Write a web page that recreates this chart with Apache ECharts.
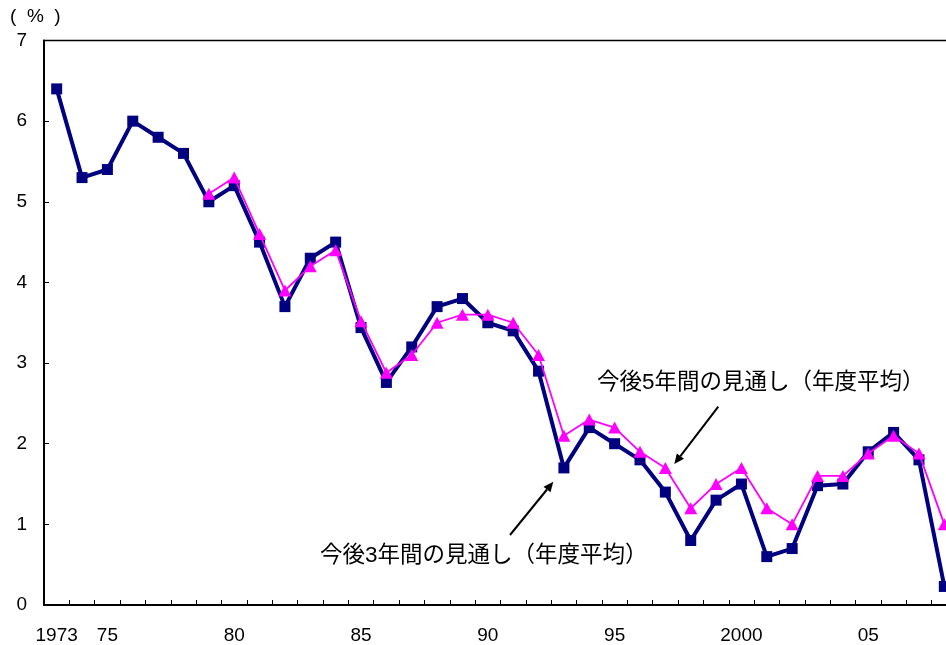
<!DOCTYPE html>
<html>
<head>
<meta charset="utf-8">
<script src="https://cdn.jsdelivr.net/npm/echarts@6/dist/echarts.min.js"></script>
<style>
html,body{margin:0;padding:0;background:#fff;overflow:hidden;width:946px;height:645px;}
#main{width:957px;height:645px;}
</style>
</head>
<body>
<div id="main"></div>
<script>
var years = ['1973','1974','1975','1976','1977','1978','1979','1980','1981','1982',
             '1983','1984','1985','1986','1987','1988','1989','1990','1991','1992',
             '1993','1994','1995','1996','1997','1998','1999','2000','2001','2002',
             '2003','2004','2005','2006','2007','2008'];
var labelYears = ['1973','1975','1980','1985','1990','1995','2000','2005'];
var labelTexts = ['1973','75','80','85','90','95','2000','05'];
var outlook3 = [6.4,5.3,5.4,6.0,5.8,5.6,5.0,5.2,4.5,3.7,
                4.3,4.5,3.44,2.76,3.2,3.7,3.8,3.5,3.4,2.9,
                1.7,2.2,2.0,1.8,1.4,0.8,1.3,1.5,0.6,0.7,
                1.48,1.5,1.9,2.14,1.8,0.23];
var outlook5 = [null,null,null,null,null,null,5.1,5.3,4.6,3.9,
                4.2,4.4,3.52,2.88,3.1,3.5,3.6,3.6,3.5,3.1,
                2.1,2.3,2.2,1.9,1.7,1.2,1.5,1.7,1.2,1.0,
                1.6,1.6,1.88,2.1,1.88,1.0];
var yTicks = [0,1,2,3,4,5,6,7];
var label3 = '今後3年間の見通し（年度平均）';
var label5 = '今後5年間の見通し（年度平均）';
var unitLabel = '(  %  )';

var chart = echarts.init(document.getElementById('main'), null, {renderer:'canvas'});
var FONT = "'Liberation Sans', Arial, 'Noto Sans CJK JP', sans-serif";
var option = {
  backgroundColor:'#fff',
  animation:false,
  grid:{left:44,top:40.5,bottom:39,right:0,show:true,borderColor:'#000',borderWidth:1.3,containLabel:false},
  xAxis:{
    type:'category',data:years,boundaryGap:true,
    axisLine:{lineStyle:{color:'#000',width:2}},
    axisTick:{show:true,inside:true,length:5,interval:0,lineStyle:{color:'#000',width:1}},
    axisLabel:{interval:0,margin:21,color:'#000',fontSize:19,fontFamily:FONT,
      formatter:function(v){var i=labelYears.indexOf(v);return i>=0?labelTexts[i]:'';}},
    splitLine:{show:false}
  },
  yAxis:{
    type:'value',min:yTicks[0],max:yTicks[yTicks.length-1],interval:1,
    axisLine:{show:true,lineStyle:{color:'#000',width:2}},
    axisTick:{show:true,inside:true,length:5,lineStyle:{color:'#000',width:1}},
    axisLabel:{margin:17,color:'#000',fontSize:19,fontFamily:FONT},
    splitLine:{show:false}
  },
  series:[
    {name:'3年',type:'line',data:outlook3,symbol:'rect',symbolSize:11,
     lineStyle:{color:'#000080',width:4},itemStyle:{color:'#000080'},z:2},
    {name:'5年',type:'line',data:outlook5,symbol:'triangle',symbolSize:[13,12],connectNulls:false,
     lineStyle:{color:'#FF00FF',width:1.8},itemStyle:{color:'#FF00FF'},z:3}
  ],
  graphic:[
    {type:'text',x:10,y:17,style:{text:unitLabel,font:"19px 'Liberation Sans', Arial, sans-serif",fill:'#000',textVerticalAlign:'middle',textAlign:'left'}},
    {type:'text',x:320,y:556,style:{text:label3,font:"22.5px 'Liberation Sans', 'Noto Sans CJK JP', sans-serif",fill:'#000',textVerticalAlign:'middle',textAlign:'left'}},
    {type:'text',x:597,y:383,style:{text:label5,font:"22.5px 'Liberation Sans', 'Noto Sans CJK JP', sans-serif",fill:'#000',textVerticalAlign:'middle',textAlign:'left'}},
    {type:'line',shape:{x1:510,y1:535,x2:547.0,y2:489.5},style:{stroke:'#000',lineWidth:2}},
    {type:'polygon',shape:{points:[[553.3,481.7],[550.5,492.3],[543.5,486.7]]},style:{fill:'#000'}},
    {type:'line',shape:{x1:718.3,y1:406.7,x2:680.4,y2:456.1},style:{stroke:'#000',lineWidth:2}},
    {type:'polygon',shape:{points:[[674.3,464],[684.0,458.8],[676.8,453.4]]},style:{fill:'#000'}}
  ]
};
chart.setOption(option);
</script>
</body>
</html>
